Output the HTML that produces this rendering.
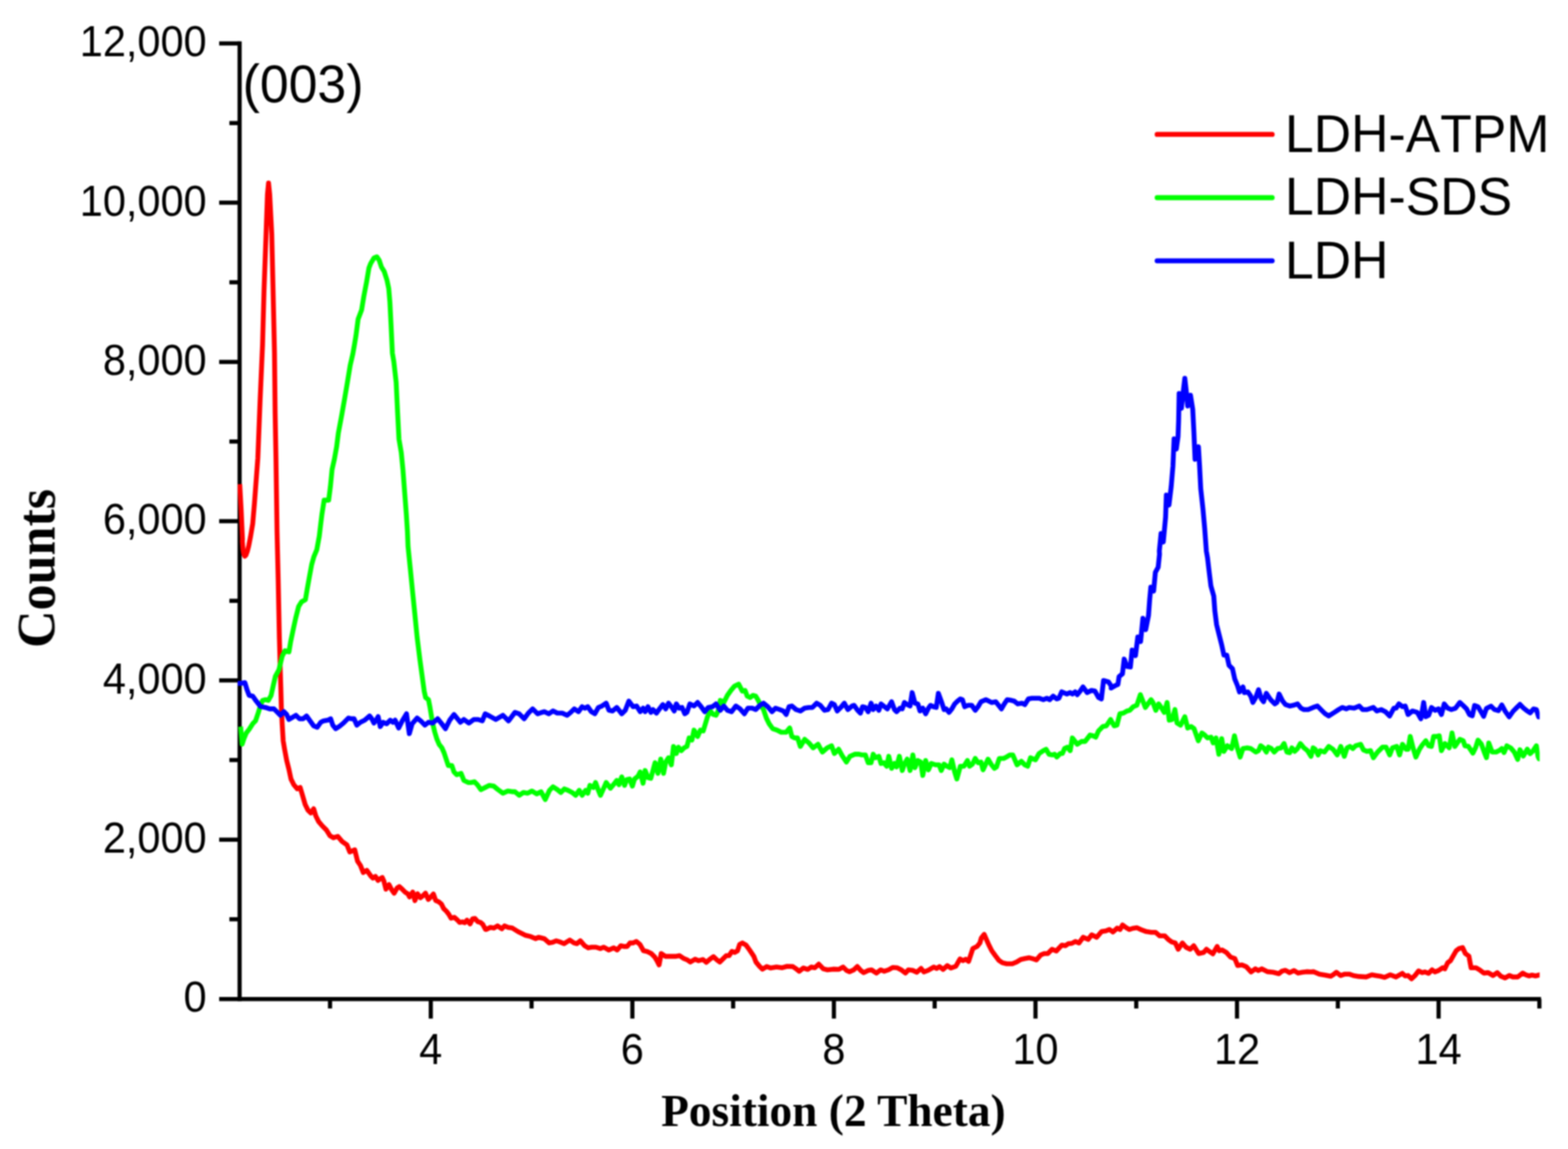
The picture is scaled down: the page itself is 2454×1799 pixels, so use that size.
<!DOCTYPE html>
<html lang="en"><head><meta charset="utf-8"><title>XRD patterns: LDH-ATPM, LDH-SDS, LDH</title>
<style>
html,body{margin:0;padding:0;background:#fff;}
body{width:2454px;height:1799px;overflow:hidden;}
svg{display:block;}
.sans{font-family:"Liberation Sans",Arial,Helvetica,sans-serif;fill:#000;font-kerning:none;}
.serif{font-family:"Liberation Serif","Times New Roman",Times,serif;font-weight:bold;fill:#000;}
.ax{stroke:#000;stroke-width:6.5;fill:none;stroke-linecap:butt;}
.cv{fill:none;stroke-width:7.6;stroke-linejoin:round;stroke-linecap:butt;}
</style></head><body>
<svg width="2454" height="1799" viewBox="0 0 2454 1799">
<rect x="0" y="0" width="2454" height="1799" fill="#ffffff"/>
<defs><filter id="soft" filterUnits="userSpaceOnUse" x="0" y="0" width="2454" height="1799" color-interpolation-filters="sRGB"><feGaussianBlur stdDeviation="0.9"/></filter></defs>
<g filter="url(#soft)">
<g class="ax">
<line x1="375.0" y1="64.8" x2="375.0" y2="1567.5"/>
<line x1="343.0" y1="1564.2" x2="2411.8" y2="1564.2"/>
<line x1="359.0" y1="1439.3" x2="375.0" y2="1439.3"/>
<line x1="343.0" y1="1314.7" x2="375.0" y2="1314.7"/>
<line x1="359.0" y1="1190.0" x2="375.0" y2="1190.0"/>
<line x1="343.0" y1="1065.3" x2="375.0" y2="1065.3"/>
<line x1="359.0" y1="940.7" x2="375.0" y2="940.7"/>
<line x1="343.0" y1="816.0" x2="375.0" y2="816.0"/>
<line x1="359.0" y1="691.3" x2="375.0" y2="691.3"/>
<line x1="343.0" y1="566.7" x2="375.0" y2="566.7"/>
<line x1="359.0" y1="442.0" x2="375.0" y2="442.0"/>
<line x1="343.0" y1="317.3" x2="375.0" y2="317.3"/>
<line x1="359.0" y1="192.7" x2="375.0" y2="192.7"/>
<line x1="343.0" y1="68.0" x2="375.0" y2="68.0"/>
<line x1="516.5" y1="1564.2" x2="516.5" y2="1579.0"/>
<line x1="674.2" y1="1564.2" x2="674.2" y2="1594.8"/>
<line x1="831.9" y1="1564.2" x2="831.9" y2="1579.0"/>
<line x1="989.7" y1="1564.2" x2="989.7" y2="1594.8"/>
<line x1="1147.4" y1="1564.2" x2="1147.4" y2="1579.0"/>
<line x1="1305.1" y1="1564.2" x2="1305.1" y2="1594.8"/>
<line x1="1462.8" y1="1564.2" x2="1462.8" y2="1579.0"/>
<line x1="1620.6" y1="1564.2" x2="1620.6" y2="1594.8"/>
<line x1="1778.3" y1="1564.2" x2="1778.3" y2="1579.0"/>
<line x1="1936.0" y1="1564.2" x2="1936.0" y2="1594.8"/>
<line x1="2093.8" y1="1564.2" x2="2093.8" y2="1579.0"/>
<line x1="2251.5" y1="1564.2" x2="2251.5" y2="1594.8"/>
<line x1="2409.2" y1="1564.2" x2="2409.2" y2="1579.0"/>
</g>
<clipPath id="plotclip"><rect x="372.0" y="0" width="2037.6" height="1799"/></clipPath>
<g clip-path="url(#plotclip)">
<polyline class="cv" stroke="#ff0000" points="375.2,758.0 377.5,800.0 379.5,845.0 379.2,846.6 380.2,859.9 381.5,867.6 383.1,870.9 384.8,869.3 387.0,863.5 389.3,854.6 391.9,841.3 395.5,820.0 398.2,788.4 403.5,717.5 407.0,628.7 410.9,540.0 413.2,455.2 416.4,366.5 418.6,304.4 420.3,286.6 422.1,304.4 425.3,366.5 427.4,455.2 429.6,552.8 430.6,646.5 431.9,717.5 433.6,832.8 435.4,908.7 437.2,997.5 438.7,1051.1 439.4,1073.3 440.3,1106.5 441.6,1133.2 443.2,1159.8 445.4,1173.1 448.7,1190.8 452.1,1204.2 455.4,1219.7 459.8,1228.6 465.4,1235.2 469.8,1233.0 473.1,1244.1 477.6,1259.6 482.0,1268.5 486.4,1272.9 490.9,1266.3 494.2,1277.4 498.6,1286.2 504.2,1292.9 510.8,1299.5 516.4,1308.4 521.9,1311.7 528.6,1309.5 535.2,1317.3 543.0,1322.8 547.4,1333.9 555.2,1330.6 559.6,1348.3 564.1,1355.0 568.5,1366.1 574.1,1362.8 580.5,1371.8 583.6,1374.9 587.6,1372.2 591.6,1378.5 595.6,1375.3 598.3,1374.0 600.9,1379.8 604.0,1392.2 608.9,1385.1 612.5,1392.2 616.9,1398.5 621.4,1390.5 624.9,1388.2 629.4,1392.2 633.8,1396.7 638.3,1399.4 641.0,1404.3 645.9,1396.7 649.4,1410.0 653.4,1399.4 657.9,1405.6 661.4,1402.9 665.9,1398.5 670.3,1408.3 673.9,1404.7 678.3,1399.8 681.9,1410.0 686.3,1411.8 690.8,1415.4 694.3,1422.5 698.8,1426.9 702.3,1431.4 705.9,1437.6 711.2,1436.3 715.7,1440.3 719.3,1444.3 723.7,1443.4 727.3,1444.7 730.8,1440.7 735.7,1446.5 739.7,1438.5 743.3,1438.1 747.7,1443.0 752.2,1444.3 755.7,1447.4 759.7,1455.0 760.8,1455.3 767.5,1452.0 773.0,1453.1 778.6,1449.7 785.2,1454.2 789.7,1449.7 795.2,1452.0 801.9,1453.1 810.7,1458.6 821.8,1464.2 830.7,1466.4 838.5,1469.7 842.9,1467.5 851.8,1469.7 859.5,1476.4 865.1,1475.2 870.6,1473.0 877.3,1475.2 882.8,1477.5 891.7,1471.9 898.4,1476.4 902.8,1477.5 908.3,1473.0 915.0,1480.8 920.5,1484.1 926.1,1483.0 932.7,1483.0 939.4,1485.2 944.9,1483.0 952.7,1487.4 960.5,1484.1 966.0,1487.4 971.6,1480.8 977.1,1481.9 981.5,1481.9 986.0,1476.4 990.4,1476.4 996.0,1474.1 1001.5,1478.6 1007.1,1488.6 1012.6,1489.7 1019.3,1493.0 1024.8,1498.5 1028.1,1504.1 1031.5,1510.7 1034.8,1493.0 1041.4,1497.4 1050.3,1497.4 1057.0,1497.4 1063.6,1496.3 1070.3,1500.8 1075.8,1503.0 1080.3,1506.3 1087.7,1501.9 1093.3,1504.1 1099.9,1502.3 1105.5,1506.7 1111.0,1501.9 1116.6,1497.9 1122.1,1503.0 1126.5,1506.3 1132.1,1500.8 1136.5,1496.3 1141.0,1496.3 1145.4,1489.7 1149.8,1491.2 1154.3,1488.6 1157.6,1478.6 1162.0,1476.4 1167.6,1479.7 1173.1,1487.4 1179.8,1497.4 1183.1,1506.3 1188.7,1513.0 1193.1,1517.4 1199.8,1513.4 1206.4,1515.6 1215.3,1514.1 1224.2,1515.2 1231.9,1513.0 1240.8,1513.4 1245.2,1516.3 1250.8,1520.7 1257.4,1515.6 1264.1,1517.8 1269.6,1514.1 1275.2,1515.2 1281.4,1509.6 1288.5,1516.9 1295.1,1518.5 1304.0,1517.4 1312.9,1517.8 1319.5,1514.1 1325.1,1519.6 1329.5,1521.4 1336.2,1518.5 1341.7,1513.4 1347.3,1519.6 1351.7,1522.9 1358.4,1519.6 1363.9,1518.5 1371.7,1523.6 1378.3,1518.5 1383.9,1520.7 1390.5,1518.5 1397.2,1514.7 1403.8,1515.2 1410.5,1518.5 1417.1,1523.6 1421.6,1518.5 1428.2,1519.2 1434.9,1522.3 1441.5,1516.3 1446.0,1521.8 1452.6,1519.2 1461.5,1514.1 1465.9,1516.3 1470.4,1513.4 1475.9,1517.8 1482.6,1511.8 1488.1,1515.6 1495.9,1513.0 1500.3,1505.2 1502.5,1501.4 1507.0,1504.1 1511.4,1501.9 1515.9,1505.2 1519.2,1495.2 1522.5,1485.2 1529.2,1481.9 1533.6,1476.4 1535.8,1468.6 1540.3,1463.0 1544.7,1473.0 1547.7,1479.7 1552.2,1488.6 1557.7,1496.3 1563.3,1503.6 1568.8,1507.4 1575.5,1509.0 1584.3,1509.0 1591.0,1506.3 1597.6,1502.3 1604.3,1500.8 1610.9,1499.6 1617.6,1501.4 1622.0,1503.0 1628.7,1495.2 1634.2,1493.0 1639.8,1493.0 1646.4,1486.3 1653.1,1489.0 1662.0,1479.7 1667.5,1480.8 1672.0,1477.5 1677.5,1477.0 1683.0,1474.1 1688.6,1476.4 1695.2,1467.5 1703.0,1470.8 1708.6,1463.7 1716.3,1467.5 1724.1,1458.6 1730.7,1457.5 1736.3,1455.3 1741.8,1459.3 1748.5,1453.1 1752.9,1455.3 1756.9,1448.2 1761.8,1452.0 1767.3,1455.3 1772.9,1453.5 1779.5,1452.6 1786.2,1455.7 1794.0,1458.6 1801.7,1459.7 1808.4,1459.7 1815.0,1465.3 1822.8,1465.3 1828.3,1470.8 1833.9,1474.8 1839.4,1476.4 1843.9,1486.3 1850.5,1476.4 1856.1,1483.0 1862.7,1486.3 1868.3,1480.8 1876.0,1493.0 1883.8,1491.2 1888.2,1486.3 1892.7,1489.7 1898.2,1493.4 1904.9,1481.9 1908.2,1488.6 1912.6,1487.4 1919.3,1491.2 1925.9,1498.5 1932.6,1500.8 1937.0,1511.8 1943.7,1510.7 1950.3,1513.4 1958.1,1521.8 1964.8,1516.9 1969.2,1519.6 1974.7,1516.9 1983.6,1521.4 1992.5,1522.3 2001.4,1524.5 2006.1,1520.7 2011.7,1519.2 2018.3,1522.9 2025.0,1519.6 2031.6,1523.6 2038.3,1522.3 2044.9,1521.4 2051.6,1521.8 2056.0,1521.4 2064.9,1525.2 2073.8,1526.7 2082.7,1528.5 2087.1,1525.8 2091.5,1522.3 2098.2,1527.4 2104.8,1525.2 2111.5,1525.2 2118.2,1527.4 2127.0,1528.9 2138.1,1529.6 2147.0,1526.3 2153.6,1527.4 2160.3,1528.5 2167.0,1530.3 2175.8,1526.3 2184.7,1529.6 2194.7,1524.0 2199.1,1528.0 2203.6,1527.4 2209.1,1532.5 2214.6,1527.4 2220.2,1520.1 2225.7,1522.9 2230.2,1521.8 2235.7,1524.0 2241.3,1518.5 2245.7,1521.8 2251.2,1519.6 2257.9,1515.2 2261.2,1516.9 2265.7,1507.4 2270.1,1504.1 2274.5,1496.3 2279.0,1488.6 2283.4,1485.2 2289.0,1483.7 2293.4,1493.0 2298.9,1497.0 2302.3,1515.2 2310.0,1515.2 2315.6,1518.5 2322.2,1523.6 2328.9,1522.9 2336.7,1527.4 2343.3,1522.9 2348.9,1528.5 2355.5,1531.1 2362.2,1527.4 2367.7,1529.6 2375.5,1529.6 2383.2,1523.6 2388.8,1526.7 2393.2,1528.0 2397.7,1526.7 2403.2,1528.0 2409.9,1526.3 2412.9,1526.3"/>
<polyline class="cv" stroke="#00ff00" points="376.6,1137.6 378.9,1165.3 382.2,1155.4 385.5,1147.6 389.9,1142.0 395.5,1133.2 399.9,1128.7 404.4,1115.4 407.7,1104.3 411.0,1096.6 415.5,1095.5 419.9,1096.6 424.3,1088.8 427.7,1073.3 431.0,1058.9 436.5,1048.9 441.6,1027.6 446.1,1018.8 452.3,1020.5 454.9,1004.6 459.4,983.3 462.9,967.3 467.4,949.5 471.8,942.4 478.0,938.9 480.7,922.9 484.2,903.4 487.8,883.9 491.3,871.5 495.8,860.8 499.7,839.5 502.0,820.0 503.7,806.2 507.3,783.1 514.4,783.1 517.1,761.8 519.7,735.2 523.3,719.2 526.8,699.7 529.5,678.4 534.8,650.0 539.2,625.2 543.7,598.6 548.1,571.9 552.2,554.2 554.7,540.0 557.0,526.2 560.5,499.6 565.9,485.4 569.4,464.1 573.8,441.0 577.4,419.7 580.1,412.6 585.4,403.7 589.8,402.0 593.4,407.3 596.9,417.9 601.3,425.0 605.8,439.2 608.4,451.7 610.2,473.0 612.0,508.4 614.1,552.8 616.4,566.6 620.0,598.6 622.3,646.5 624.4,687.3 628.0,708.6 630.6,735.2 633.3,770.7 636.0,806.2 637.7,832.8 638.6,855.5 642.2,891.0 645.7,926.5 649.3,962.0 652.8,997.5 657.2,1033.0 663.9,1082.1 666.1,1092.1 670.6,1095.5 672.8,1106.5 675.0,1119.9 677.2,1133.2 680.5,1146.5 683.9,1157.6 687.2,1165.3 691.6,1170.9 695.0,1178.6 698.3,1188.6 701.6,1198.6 707.2,1198.6 710.5,1208.6 714.9,1213.0 721.6,1210.8 726.0,1221.9 732.7,1225.2 737.1,1225.2 742.7,1224.1 747.1,1228.6 752.6,1236.3 759.3,1233.0 765.9,1229.7 772.6,1230.8 779.3,1236.3 787.0,1241.9 794.8,1238.5 801.4,1239.6 805.9,1239.6 812.5,1245.2 819.2,1240.8 825.8,1241.9 832.5,1238.5 840.0,1243.0 846.7,1239.6 853.3,1251.8 860.0,1237.4 865.5,1231.9 872.2,1236.3 877.7,1240.8 883.3,1235.2 888.8,1237.4 895.5,1240.8 901.0,1245.2 906.5,1237.4 911.0,1245.2 916.5,1237.4 919.9,1241.9 923.2,1229.7 928.7,1233.0 932.1,1225.2 936.5,1237.4 939.8,1245.2 944.3,1235.2 948.7,1225.2 955.4,1234.1 962.0,1226.3 965.3,1221.9 968.7,1228.6 973.1,1216.4 977.5,1229.7 980.9,1220.8 985.3,1219.7 989.7,1230.8 993.1,1219.7 998.6,1215.2 1001.9,1208.6 1006.4,1226.3 1009.7,1206.4 1014.1,1217.5 1018.6,1218.6 1021.9,1206.4 1025.2,1194.2 1029.7,1210.8 1034.1,1188.6 1038.5,1210.8 1041.9,1193.1 1046.3,1186.4 1050.7,1197.5 1054.1,1168.7 1058.5,1179.8 1061.8,1169.8 1066.3,1175.3 1070.7,1170.9 1075.1,1168.7 1078.5,1155.4 1082.9,1158.7 1086.2,1143.1 1091.8,1153.1 1096.2,1143.1 1100.6,1144.3 1104.0,1133.2 1107.3,1122.1 1111.7,1113.2 1116.2,1118.7 1120.6,1119.9 1123.9,1113.2 1127.3,1096.6 1132.8,1099.9 1138.4,1088.8 1143.9,1081.0 1149.4,1074.4 1156.1,1071.1 1161.7,1082.1 1166.1,1081.0 1169.4,1089.9 1173.9,1092.1 1178.3,1088.8 1182.7,1089.9 1186.1,1095.5 1190.5,1104.3 1194.9,1111.0 1199.4,1124.3 1203.8,1133.2 1209.3,1140.9 1216.0,1143.1 1222.7,1146.5 1230.4,1146.5 1236.0,1139.8 1239.3,1153.1 1243.7,1155.4 1248.2,1155.4 1252.6,1168.7 1259.3,1157.6 1265.9,1163.1 1272.6,1170.9 1280.3,1165.3 1287.0,1177.5 1294.7,1170.9 1301.4,1167.6 1305.8,1179.8 1312.5,1173.1 1318.0,1183.1 1324.7,1193.1 1330.2,1184.2 1337.7,1180.9 1344.4,1180.9 1348.8,1182.0 1354.4,1182.0 1358.8,1194.2 1363.3,1194.2 1366.6,1180.9 1369.9,1186.4 1375.5,1184.2 1378.8,1195.3 1383.2,1194.2 1387.7,1199.7 1391.0,1184.2 1395.4,1203.0 1399.9,1195.3 1403.2,1200.8 1407.6,1184.2 1412.1,1206.4 1415.4,1196.4 1419.8,1188.6 1424.3,1206.4 1428.7,1182.0 1432.0,1201.9 1436.5,1190.8 1440.9,1193.1 1444.2,1214.1 1448.7,1190.8 1453.1,1205.3 1457.5,1195.3 1464.2,1197.5 1469.7,1197.5 1473.1,1206.4 1477.5,1196.4 1481.9,1199.7 1486.4,1201.9 1489.7,1189.7 1494.1,1208.6 1497.5,1219.7 1503.0,1199.7 1508.6,1199.7 1514.1,1190.8 1517.4,1199.7 1521.9,1196.4 1526.3,1187.5 1530.7,1194.2 1535.2,1193.1 1538.5,1205.3 1546.3,1188.6 1551.8,1197.5 1556.2,1203.0 1559.6,1200.8 1564.0,1187.5 1570.7,1187.5 1575.1,1185.3 1580.6,1182.0 1585.1,1182.0 1591.7,1197.5 1598.4,1192.0 1603.9,1197.5 1608.4,1199.7 1612.8,1186.4 1620.6,1189.7 1626.1,1179.8 1632.8,1175.3 1637.2,1173.1 1641.7,1180.9 1647.2,1182.0 1650.5,1180.9 1653.9,1185.3 1659.4,1179.8 1662.7,1179.8 1666.1,1172.0 1670.5,1169.8 1674.9,1175.3 1678.3,1155.4 1686.0,1165.3 1692.7,1160.9 1698.2,1160.9 1706.0,1150.9 1710.4,1152.0 1714.9,1154.2 1719.3,1144.3 1725.9,1137.6 1731.5,1136.5 1738.1,1126.5 1743.7,1136.5 1748.1,1135.4 1752.6,1117.6 1758.1,1116.5 1763.7,1113.2 1768.1,1112.1 1773.6,1106.5 1779.2,1104.3 1784.7,1087.7 1792.5,1107.7 1801.4,1095.5 1804.4,1099.9 1808.9,1112.1 1813.3,1102.1 1816.6,1106.5 1822.2,1115.4 1826.6,1099.9 1829.9,1127.6 1834.4,1126.5 1838.8,1111.0 1842.1,1132.1 1847.7,1135.4 1854.3,1122.1 1858.8,1139.8 1864.3,1137.6 1868.8,1140.9 1875.4,1159.8 1881.0,1147.6 1885.4,1150.9 1889.8,1155.4 1895.4,1154.2 1898.7,1163.1 1903.1,1155.4 1907.6,1180.9 1912.0,1156.5 1915.4,1176.4 1920.9,1167.6 1927.6,1172.0 1932.0,1152.0 1936.4,1170.9 1940.9,1185.3 1945.3,1172.0 1952.0,1170.9 1957.5,1172.0 1965.3,1177.5 1969.7,1175.3 1973.0,1167.6 1977.5,1170.9 1981.9,1177.5 1985.2,1169.8 1989.7,1172.0 1994.1,1177.5 1999.6,1172.0 2005.2,1170.9 2009.6,1164.2 2014.1,1177.5 2018.5,1178.6 2021.8,1170.9 2026.3,1176.4 2030.7,1172.0 2035.1,1164.2 2040.7,1170.9 2046.2,1175.3 2051.8,1184.2 2055.1,1170.9 2058.4,1173.1 2062.9,1182.0 2066.2,1175.3 2072.8,1177.5 2079.5,1168.7 2086.2,1173.1 2092.8,1182.0 2098.4,1168.7 2103.9,1184.2 2108.3,1170.9 2112.8,1168.7 2117.2,1172.0 2121.7,1167.6 2129.4,1165.3 2133.9,1174.2 2139.4,1176.4 2144.9,1175.3 2149.4,1186.4 2156.0,1177.5 2163.8,1169.8 2169.3,1169.8 2174.9,1182.0 2179.3,1170.9 2186.0,1168.7 2190.4,1182.0 2194.9,1165.3 2200.4,1173.1 2203.7,1173.1 2207.1,1153.1 2211.5,1170.9 2215.9,1185.3 2221.5,1173.1 2225.9,1166.4 2231.5,1159.8 2235.9,1167.6 2240.3,1168.7 2243.7,1153.1 2248.1,1153.1 2252.5,1152.0 2255.9,1175.3 2261.4,1164.2 2268.1,1170.9 2272.5,1147.6 2276.9,1168.7 2284.7,1157.6 2290.0,1159.7 2292.7,1167.7 2298.0,1168.6 2305.1,1179.2 2309.5,1170.4 2313.1,1158.8 2318.4,1165.0 2322.9,1177.5 2326.4,1186.3 2330.0,1163.3 2335.3,1177.5 2341.5,1177.5 2346.8,1174.8 2350.4,1172.1 2353.9,1178.3 2358.3,1167.7 2364.6,1171.3 2369.9,1177.5 2375.2,1189.0 2378.8,1173.9 2384.1,1183.7 2390.3,1173.0 2394.7,1180.1 2399.2,1175.7 2404.5,1167.7 2407.1,1184.6 2408.6,1188.1 2411.6,1188.1"/>
<polyline class="cv" stroke="#0000ff" points="371.6,1069.9 376.6,1069.9 383.3,1068.8 386.6,1079.9 389.9,1088.8 395.5,1089.9 401.0,1097.7 407.7,1106.1 415.5,1107.7 422.1,1109.9 428.8,1109.9 434.3,1115.4 438.7,1119.9 444.3,1114.3 448.7,1118.7 452.1,1126.5 457.6,1123.2 463.1,1119.9 468.7,1125.4 474.2,1125.4 479.8,1121.0 485.3,1128.7 490.9,1136.5 496.4,1138.7 502.0,1130.9 506.4,1128.7 513.1,1127.6 517.5,1125.4 520.8,1135.4 525.3,1140.9 530.8,1137.6 537.5,1132.1 545.2,1124.3 549.7,1125.4 554.1,1125.4 558.5,1135.4 564.1,1130.9 570.7,1127.6 578.5,1121.0 581.8,1125.4 585.2,1132.1 588.5,1127.6 591.8,1122.1 595.1,1137.6 599.6,1130.9 605.1,1133.2 610.7,1127.6 615.1,1130.9 618.4,1127.6 624.0,1139.8 629.5,1128.7 636.2,1117.6 640.6,1148.7 645.0,1133.2 652.8,1124.3 658.4,1128.7 665.0,1135.4 670.6,1130.9 677.2,1132.1 685.0,1125.4 690.5,1132.1 697.2,1140.9 703.8,1127.6 710.5,1118.7 716.0,1125.4 720.5,1130.9 726.0,1126.5 733.8,1132.1 741.5,1126.5 748.2,1126.5 754.9,1128.7 759.3,1117.6 765.9,1121.0 775.9,1126.5 787.0,1119.9 795.9,1128.7 805.9,1115.4 812.5,1117.6 820.3,1125.4 826.9,1116.5 833.6,1109.9 841.4,1117.6 851.3,1114.3 852.2,1114.3 858.9,1117.6 865.5,1113.2 872.2,1116.5 879.9,1116.5 887.7,1119.9 893.2,1115.4 898.8,1109.9 905.4,1114.3 911.0,1106.5 915.4,1108.8 919.9,1106.5 925.4,1114.3 930.9,1117.6 936.5,1107.7 942.0,1105.4 948.7,1101.0 953.1,1112.1 958.7,1113.2 965.3,1107.7 973.1,1117.6 978.6,1112.1 984.2,1097.7 990.8,1106.5 996.4,1105.4 1001.9,1114.3 1006.4,1108.8 1009.7,1114.3 1014.1,1106.5 1018.6,1115.4 1021.9,1111.0 1027.4,1116.5 1033.0,1108.8 1037.4,1103.2 1041.9,1109.9 1046.3,1101.0 1050.7,1106.5 1055.2,1113.2 1058.5,1102.1 1062.9,1108.8 1067.4,1107.7 1071.8,1117.6 1075.1,1115.4 1079.6,1102.1 1086.2,1105.4 1091.8,1099.9 1097.3,1106.5 1102.9,1114.3 1108.4,1107.7 1115.1,1106.5 1120.6,1102.1 1127.3,1112.1 1132.8,1105.4 1138.4,1112.1 1145.0,1114.3 1151.7,1105.4 1158.3,1109.9 1165.0,1117.6 1170.5,1108.8 1177.2,1108.8 1182.7,1111.0 1189.4,1104.3 1194.9,1101.0 1201.6,1106.5 1208.2,1114.3 1213.8,1108.8 1220.4,1111.0 1226.0,1113.2 1230.4,1118.7 1234.9,1106.5 1239.3,1105.4 1245.9,1111.0 1252.6,1113.2 1259.3,1108.8 1265.9,1107.7 1271.5,1107.7 1278.1,1101.0 1283.7,1104.3 1290.3,1112.1 1295.9,1111.0 1301.4,1101.0 1305.8,1103.2 1310.3,1113.2 1316.9,1106.5 1321.4,1101.0 1326.9,1111.0 1333.6,1105.4 1336.6,1104.3 1342.2,1112.1 1346.6,1116.5 1349.9,1106.5 1354.4,1107.7 1358.8,1114.3 1363.3,1101.0 1366.6,1111.0 1371.0,1105.4 1375.5,1112.1 1378.8,1102.1 1384.3,1106.5 1388.8,1109.9 1395.4,1098.8 1399.9,1111.0 1403.2,1114.3 1408.7,1108.8 1412.1,1109.9 1415.4,1099.9 1419.8,1103.2 1424.3,1105.4 1427.6,1084.4 1432.0,1101.0 1436.5,1102.1 1439.8,1113.2 1444.2,1108.8 1448.7,1117.6 1453.1,1108.8 1456.4,1104.3 1460.9,1106.5 1465.3,1107.7 1468.6,1085.5 1473.1,1097.7 1477.5,1111.0 1480.8,1109.9 1485.3,1115.4 1489.7,1109.9 1494.1,1102.1 1498.6,1097.7 1503.0,1094.3 1506.3,1095.5 1509.7,1106.5 1515.2,1104.3 1520.8,1104.3 1526.3,1112.1 1530.7,1106.5 1535.2,1098.8 1542.9,1095.5 1547.4,1097.7 1551.8,1099.9 1558.5,1098.8 1562.9,1104.3 1567.3,1109.9 1571.8,1102.1 1576.2,1095.5 1582.9,1096.6 1587.3,1097.7 1592.8,1102.1 1599.5,1101.0 1603.9,1103.2 1609.5,1094.3 1615.0,1093.2 1626.1,1093.2 1632.8,1095.5 1638.3,1093.2 1642.8,1095.5 1648.3,1089.9 1653.9,1094.3 1657.2,1093.2 1661.6,1083.3 1669.4,1086.6 1674.9,1084.4 1678.3,1086.6 1682.7,1083.3 1686.0,1087.7 1690.5,1082.1 1694.9,1075.5 1701.5,1084.4 1708.2,1081.0 1713.7,1082.1 1719.3,1092.1 1723.7,1094.3 1727.1,1065.5 1734.8,1067.7 1739.3,1074.4 1739.0,1077.2 1745.2,1073.6 1749.6,1071.8 1751.4,1059.4 1756.7,1055.0 1759.4,1031.9 1763.8,1043.4 1769.1,1044.3 1771.8,1017.7 1777.1,1026.6 1780.7,997.3 1785.1,1004.4 1788.7,968.0 1793.1,985.8 1797.5,963.6 1799.3,938.7 1801.1,919.2 1805.5,925.4 1808.2,896.1 1812.6,888.2 1814.7,867.7 1814.4,862.8 1817.1,835.3 1820.6,848.6 1824.2,809.6 1825.4,775.0 1829.5,790.9 1833.0,761.7 1835.7,729.7 1837.5,687.1 1841.0,703.1 1843.7,683.6 1844.6,658.7 1845.4,616.1 1849.0,639.2 1851.7,614.4 1854.3,592.2 1857.0,616.1 1858.8,635.7 1863.2,618.8 1866.7,641.0 1868.5,676.5 1870.3,719.1 1875.6,699.5 1877.4,729.7 1879.2,765.2 1882.7,797.2 1885.4,827.3 1888.0,862.8 1889.8,873.1 1892.5,896.1 1895.1,917.4 1899.6,933.4 1901.3,956.5 1904.0,977.8 1908.4,995.5 1912.0,1009.7 1915.5,1025.7 1920.0,1025.7 1923.5,1041.7 1928.9,1047.0 1932.4,1063.0 1936.8,1073.6 1939.8,1083.3 1945.3,1075.5 1947.5,1084.4 1953.1,1083.3 1957.5,1089.9 1960.8,1099.9 1965.3,1092.1 1969.7,1079.9 1974.1,1094.3 1977.5,1098.8 1981.9,1085.5 1988.6,1095.5 1995.2,1102.1 1998.5,1099.9 2001.9,1086.6 2007.4,1097.7 2011.8,1103.2 2018.5,1105.4 2024.0,1104.3 2030.7,1102.1 2036.2,1108.8 2040.7,1111.0 2047.3,1111.0 2055.1,1107.7 2061.8,1105.4 2068.4,1112.1 2074.0,1117.6 2079.5,1121.0 2088.4,1115.4 2095.0,1111.0 2100.6,1107.7 2107.2,1109.9 2111.7,1107.7 2119.4,1108.8 2127.2,1105.4 2132.7,1111.0 2139.4,1111.0 2149.4,1107.7 2154.9,1113.2 2161.6,1111.0 2168.2,1114.3 2174.9,1121.0 2181.5,1108.8 2184.9,1108.8 2189.3,1102.1 2194.9,1106.5 2199.3,1105.4 2203.7,1118.7 2210.4,1113.2 2218.1,1115.4 2223.7,1125.4 2228.1,1099.9 2231.5,1122.1 2235.9,1119.9 2240.3,1107.7 2245.9,1112.1 2251.4,1109.9 2255.9,1118.7 2260.3,1102.1 2265.8,1108.8 2271.4,1111.0 2278.0,1108.8 2284.7,1099.9 2290.0,1104.7 2295.3,1110.0 2299.8,1118.9 2304.2,1120.7 2307.8,1104.7 2313.1,1106.5 2318.4,1115.4 2322.0,1121.6 2326.4,1109.1 2333.5,1105.6 2338.8,1110.9 2345.0,1112.7 2350.4,1103.8 2355.7,1113.6 2361.9,1122.4 2368.1,1113.6 2373.4,1108.3 2378.8,1102.9 2384.1,1108.3 2389.4,1112.7 2394.7,1116.2 2400.1,1110.0 2404.5,1110.9 2408.0,1122.4 2411.0,1122.4"/>
</g>
<text class="sans" font-size="65" text-anchor="end" transform="translate(323.50,1584.20) scale(1.0000,1.0650)">0</text>
<text class="sans" font-size="65" text-anchor="end" transform="translate(323.50,1334.87) scale(1.0000,1.0650)">2,000</text>
<text class="sans" font-size="65" text-anchor="end" transform="translate(323.50,1085.53) scale(1.0000,1.0650)">4,000</text>
<text class="sans" font-size="65" text-anchor="end" transform="translate(323.50,836.20) scale(1.0000,1.0650)">6,000</text>
<text class="sans" font-size="65" text-anchor="end" transform="translate(323.50,586.87) scale(1.0000,1.0650)">8,000</text>
<text class="sans" font-size="65" text-anchor="end" transform="translate(323.50,337.53) scale(1.0000,1.0650)">10,000</text>
<text class="sans" font-size="65" text-anchor="end" transform="translate(323.50,88.20) scale(1.0000,1.0650)">12,000</text>
<text class="sans" font-size="65" text-anchor="middle" transform="translate(674.20,1666.00) scale(1.0000,1.0650)">4</text>
<text class="sans" font-size="65" text-anchor="middle" transform="translate(989.66,1666.00) scale(1.0000,1.0650)">6</text>
<text class="sans" font-size="65" text-anchor="middle" transform="translate(1305.12,1666.00) scale(1.0000,1.0650)">8</text>
<text class="sans" font-size="65" text-anchor="middle" transform="translate(1620.58,1666.00) scale(1.0000,1.0650)">10</text>
<text class="sans" font-size="65" text-anchor="middle" transform="translate(1936.04,1666.00) scale(1.0000,1.0650)">12</text>
<text class="sans" font-size="65" text-anchor="middle" transform="translate(2251.50,1666.00) scale(1.0000,1.0650)">14</text>
<text class="sans" font-size="81" text-anchor="start" transform="translate(379.80,160.20) scale(1.0000,1.0300)">(003)</text>
<g stroke-width="7.8" stroke-linecap="round" fill="none">
<line x1="1811.0" y1="210.4" x2="1991.0" y2="210.4" stroke="#ff0000"/>
<line x1="1811.0" y1="309.5" x2="1991.0" y2="309.5" stroke="#00ff00"/>
<line x1="1811.0" y1="408.3" x2="1991.0" y2="408.3" stroke="#0000ff"/>
</g>
<text class="sans" font-size="81" text-anchor="start" transform="translate(2011.00,238.40) scale(1.0000,1.0300)">LDH-ATPM</text>
<text class="sans" font-size="81" text-anchor="start" transform="translate(2011.00,336.30) scale(1.0000,1.0300)">LDH-SDS</text>
<text class="sans" font-size="81" text-anchor="start" transform="translate(2011.00,435.60) scale(1.0000,1.0300)">LDH</text>
<text class="serif" font-size="71" text-anchor="middle" transform="translate(1304.30,1763.30)">Position (2 Theta)</text>
<text class="serif" font-size="81.5" text-anchor="middle" transform="translate(85.00,890.00) rotate(-90) scale(1.0000,1.0350)">Counts</text>
</g>
</svg></body></html>
